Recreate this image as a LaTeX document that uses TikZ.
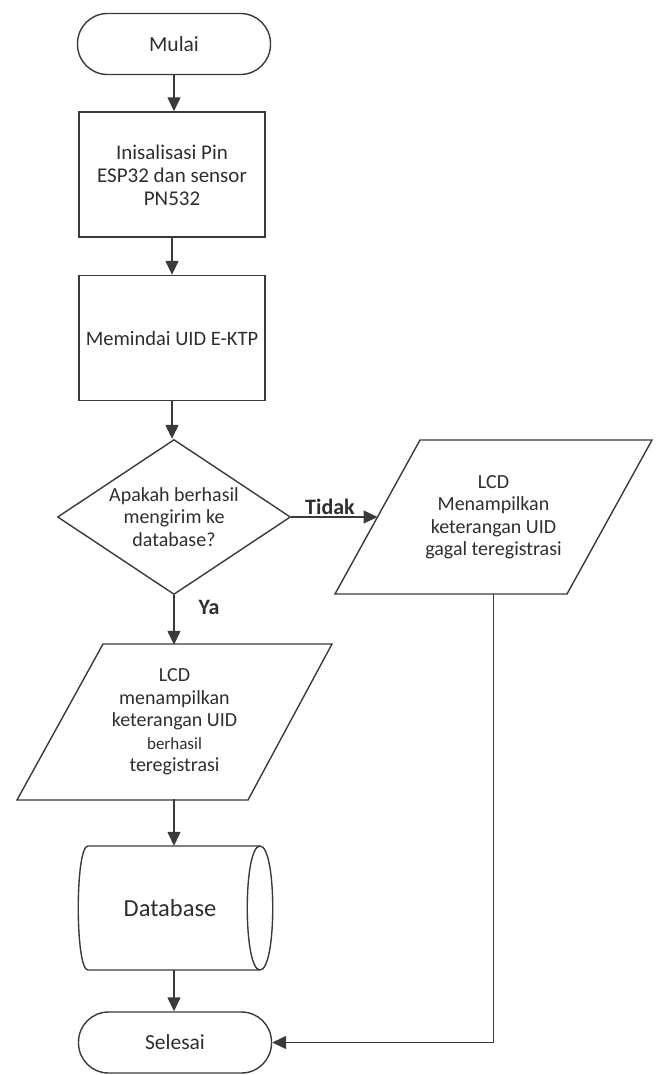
\documentclass[tikz,border=0pt]{standalone}
\usepackage{fontspec}
\setmainfont{Carlito}
\usetikzlibrary{shapes.geometric,arrows.meta}
\definecolor{ln}{HTML}{3A3A3A}
\definecolor{tx}{HTML}{2E2E2E}
\begin{document}
\begin{tikzpicture}[x=1pt,y=-1pt,
  base/.style={draw=ln, line width=1.4pt, text=tx, align=center, inner sep=0pt,
    font=\fontsize{20}{22.5}\selectfont},
  term/.style={base, rectangle, rounded corners=30pt, minimum width=193pt, minimum height=61pt,
    font=\fontsize{21.5}{24}\selectfont},
  proc/.style={base, rectangle, minimum width=186pt, minimum height=125pt},
  dec/.style={base, diamond, aspect=1.5, minimum width=233pt, minimum height=155pt},
  iotext/.style={text=tx, align=center, inner sep=0pt, font=\fontsize{20}{22.5}\selectfont,
    minimum width=230pt, minimum height=154pt},
  outline/.style={draw=ln, line width=1.4pt, line join=miter},
  lbl/.style={text=tx, inner sep=0pt, font=\fontsize{22}{24}\selectfont\bfseries},
  conn/.style={draw=ln, line width=1.4pt},
  arr/.style={conn, -{Triangle[length=14pt,width=13pt]}}
]
\useasboundingbox (0,0) rectangle (660,1075);

\node[term] (start) at (174,44) {Mulai};
\node[proc, font=\fontsize{21}{23}\selectfont] (init) at (172,174.5) {\rule{0pt}{16pt}Inisalisasi Pin\\ESP32 dan sensor\\PN532};
\node[proc, font=\fontsize{20.5}{23}\selectfont] (scan) at (172,338) {Memindai UID E-KTP};
\node[dec] (dec) at (174,517) {Apakah berhasil\\mengirim ke\\database?};

% output: failure
\node[iotext] (fail) at (493.5,517) {LCD\\Menampilkan\\keterangan UID\\gagal teregistrasi};
\draw[outline] (420,440) -- (652,440) -- (567,594) -- (335,594) -- cycle;
\coordinate (failin) at (377.5,517);

% output: success
\node[iotext] (ok) at (174.5,722) {LCD\\menampilkan\\keterangan UID\\{\fontsize{17}{22.5}\selectfont berhasil}\\teregistrasi};
\draw[outline] (103,644) -- (332,644) -- (248,800) -- (17,800) -- cycle;

% database
\node[minimum width=195pt, minimum height=124pt, inner sep=0pt, text=tx,
  font=\fontsize{24.5}{26}\selectfont] (db) at (174,908) {\hspace*{-8pt}Database};
\draw[outline] (88,846) -- (260,846)
  .. controls (277,846) and (277,970) .. (260,970) -- (88,970)
  .. controls (75,970) and (75,846) .. (88,846);
\draw[outline] (260,846) .. controls (243,846) and (243,970) .. (260,970);

\node[term] (end) at (175,1042.5) {Selesai};

\path[arr] (start.south) -- (init.north -| start.south);
\path[arr] (init.south) -- (scan.north);
\path[arr] (scan.south) -- (dec.north -| scan.south);
\path[arr] (dec.east) -- (failin);
\path[arr] (dec.south) -- (ok.north -| dec.south);
\path[arr] (ok.south -| db.north) -- (db.north);
\path[arr] (db.south) -- (end.north -| db.south);
\path[arr] (fail.south) |- (end.east);

\node[lbl, anchor=base] (tidak) at (330,514) {Tidak};
\node[lbl, anchor=base] (ya) at (209,614) {Ya};
\end{tikzpicture}
\end{document}
